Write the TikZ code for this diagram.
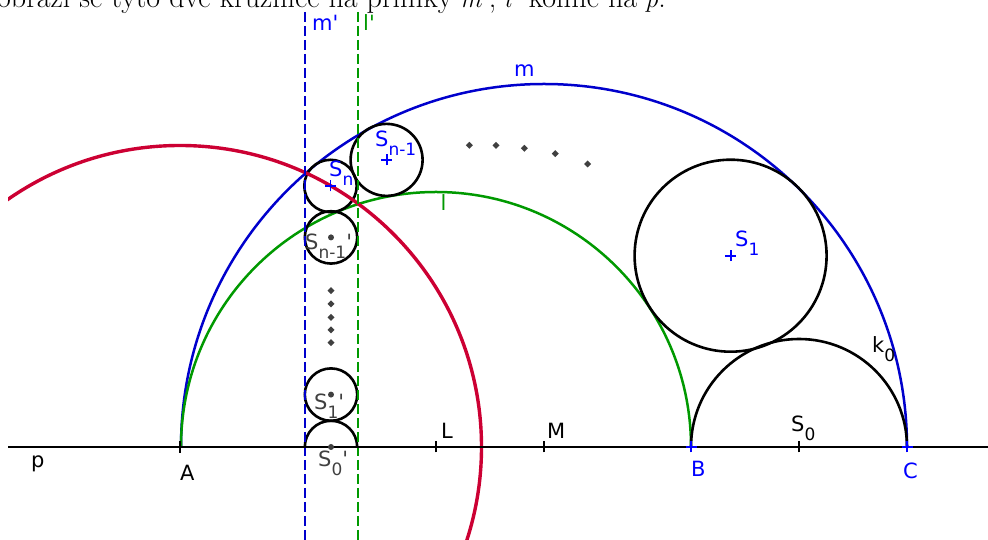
\documentclass[tikz,border=0pt]{standalone}
\usepackage{fontspec}
\newfontfamily\dvs{DejaVu Sans}
\definecolor{gblue}{RGB}{0,0,204}
\definecolor{lblue}{RGB}{0,0,255}
\definecolor{ggreen}{RGB}{0,153,0}
\definecolor{gred}{RGB}{204,0,51}
\definecolor{ggray}{RGB}{64,64,64}
\newcommand\lsub[1]{\raisebox{-9pt}{\fontsize{17}{17}\selectfont #1}}
\tikzset{
  lbl/.style={font=\dvs\fontsize{21}{21}\selectfont, inner sep=0pt, anchor=base west},
  circ/.style={draw=black, line width=2.6pt},
  plusmark/.pic={\draw[line width=1.8pt] (-5.5,0) -- (5.5,0) (0,-5.5) -- (0,5.5);},
  vtick/.pic={\draw[line width=1.8pt] (0,-6) -- (0,6);},
  dia/.pic={\fill (-3.5,0) -- (0,3.5) -- (3.5,0) -- (0,-3.5) -- cycle;},
  gdot/.style={fill=ggray, draw=none}
}
\begin{document}
\begin{tikzpicture}[x=1pt,y=1pt]
\useasboundingbox (0,0) rectangle (988,540);
% coordinates
\coordinate (A) at (180,93);
\coordinate (B) at (691,93);
\coordinate (C) at (907,93);
\coordinate (L) at (436,93);
\coordinate (M) at (544,93);
\coordinate (S0) at (799,93);
\coordinate (pl) at (8,93);
\coordinate (pr) at (988,93);
\coordinate (S0p) at (331,93);
\coordinate (S1p) at (331,145.4);
\coordinate (S4p) at (331,302.6);
\coordinate (Sn) at (330.5,354);
\coordinate (Snm) at (386.6,380.1);
\coordinate (S1) at (730.6,284.3);
\coordinate (mt) at (305,528);
\coordinate (mb) at (305,0);
\coordinate (lt) at (357.5,528);
\coordinate (lb) at (357.5,0);

% top text (cut off at the top edge)
\begin{scope}
\clip (0,0) rectangle (988,540);
\node[anchor=base west, inner sep=0pt, font=\fontsize{30}{30}\selectfont] (toptext) at (-3,532)
  {obrazí se tyto dvě kružnice na přímky $m'$, $l'$ kolmé na $p$.};
\end{scope}

\begin{scope}
\clip (8,0) rectangle (988,528);
% arbelos arcs
\draw[gblue, line width=2.5pt] (C) arc[start angle=0, end angle=180, radius=363];
\draw[ggreen, line width=2.5pt] (B) arc[start angle=0, end angle=180, radius=255];
\draw[circ] (C) arc[start angle=0, end angle=180, radius=108];
% chain circles
\draw[circ] (S1) circle[radius=96];
\draw[circ] (Snm) circle[radius=36];
\draw[circ] (Sn) circle[radius=26.2];
\draw[circ] (S4p) circle[radius=26.2];
\draw[circ] (S1p) circle[radius=26.2];
\draw[circ] ([xshift=26.2pt]S0p) arc[start angle=0, end angle=180, radius=26.2];
% inversion circle
\draw[gred, line width=3.4pt] (A) circle[radius=301.5];
% images of m and l
\draw[gblue, line width=2pt, dash pattern=on 10pt off 4pt] (mt) -- (mb);
\draw[ggreen, line width=2pt, dash pattern=on 10pt off 4pt] (lt) -- (lb);
% line p
\draw[black, line width=2pt] (pl) -- (pr);
\end{scope}

% point marks
\pic[black] at (A) {vtick};
\pic[black] at (L) {plusmark};
\pic[black] at (M) {plusmark};
\pic[black] at (S0) {plusmark};
\pic[lblue] at (B) {plusmark};
\pic[lblue] at (C) {plusmark};
\pic[lblue] at (Sn) {plusmark};
\pic[lblue] at (Snm) {plusmark};
\pic[lblue] at (S1) {plusmark};
\fill[gdot] (S0p) circle[radius=3];
\fill[gdot] (S1p) circle[radius=3];
\fill[gdot] (S4p) circle[radius=3];
% dots
\foreach \yy in {249.3,236,222.7,210,197.3} \pic[ggray] at (331,\yy) {dia};
\foreach \xx/\yy in {469.3/394.7,496/394.7,524.3/391.7,555.3/386.3,587.7/376} \pic[ggray] at (\xx,\yy) {dia};

% labels
\node[lbl, lblue] (lmp) at (312,509) {m'};
\node[lbl, ggreen] (llp) at (363,509) {l'};
\node[lbl, lblue] (lm) at (514,463) {m};
\node[lbl, ggreen] (ll) at (440.5,329) {l};
\node[lbl, lblue] (lSnm) at (375,393) {S\lsub{n-1}};
\node[lbl, lblue] (lSn) at (329,363) {S\lsub{n}};
\node[lbl, ggray] (lS4p) at (305,290) {S\lsub{n-1}'};
\node[lbl, ggray] (lS1p) at (314,130) {S\lsub{1}'};
\node[lbl, ggray] (lS0p) at (318,73.3) {S\lsub{0}'};
\node[lbl, black] (lp) at (31,72) {p};
\node[lbl, black] (lA) at (180,59) {A};
\node[lbl, black] (lL) at (441,101) {L};
\node[lbl, black] (lM) at (547,101) {M};
\node[lbl, lblue] (lB) at (691,63) {B};
\node[lbl, lblue] (lC) at (903,61) {C};
\node[lbl, black] (lS0) at (791,108) {S\lsub{0}};
\node[lbl, black] (lk0) at (872,187) {k\lsub{0}};
\node[lbl, lblue] (lS1) at (735,293) {S\lsub{1}};
\end{tikzpicture}
\end{document}
